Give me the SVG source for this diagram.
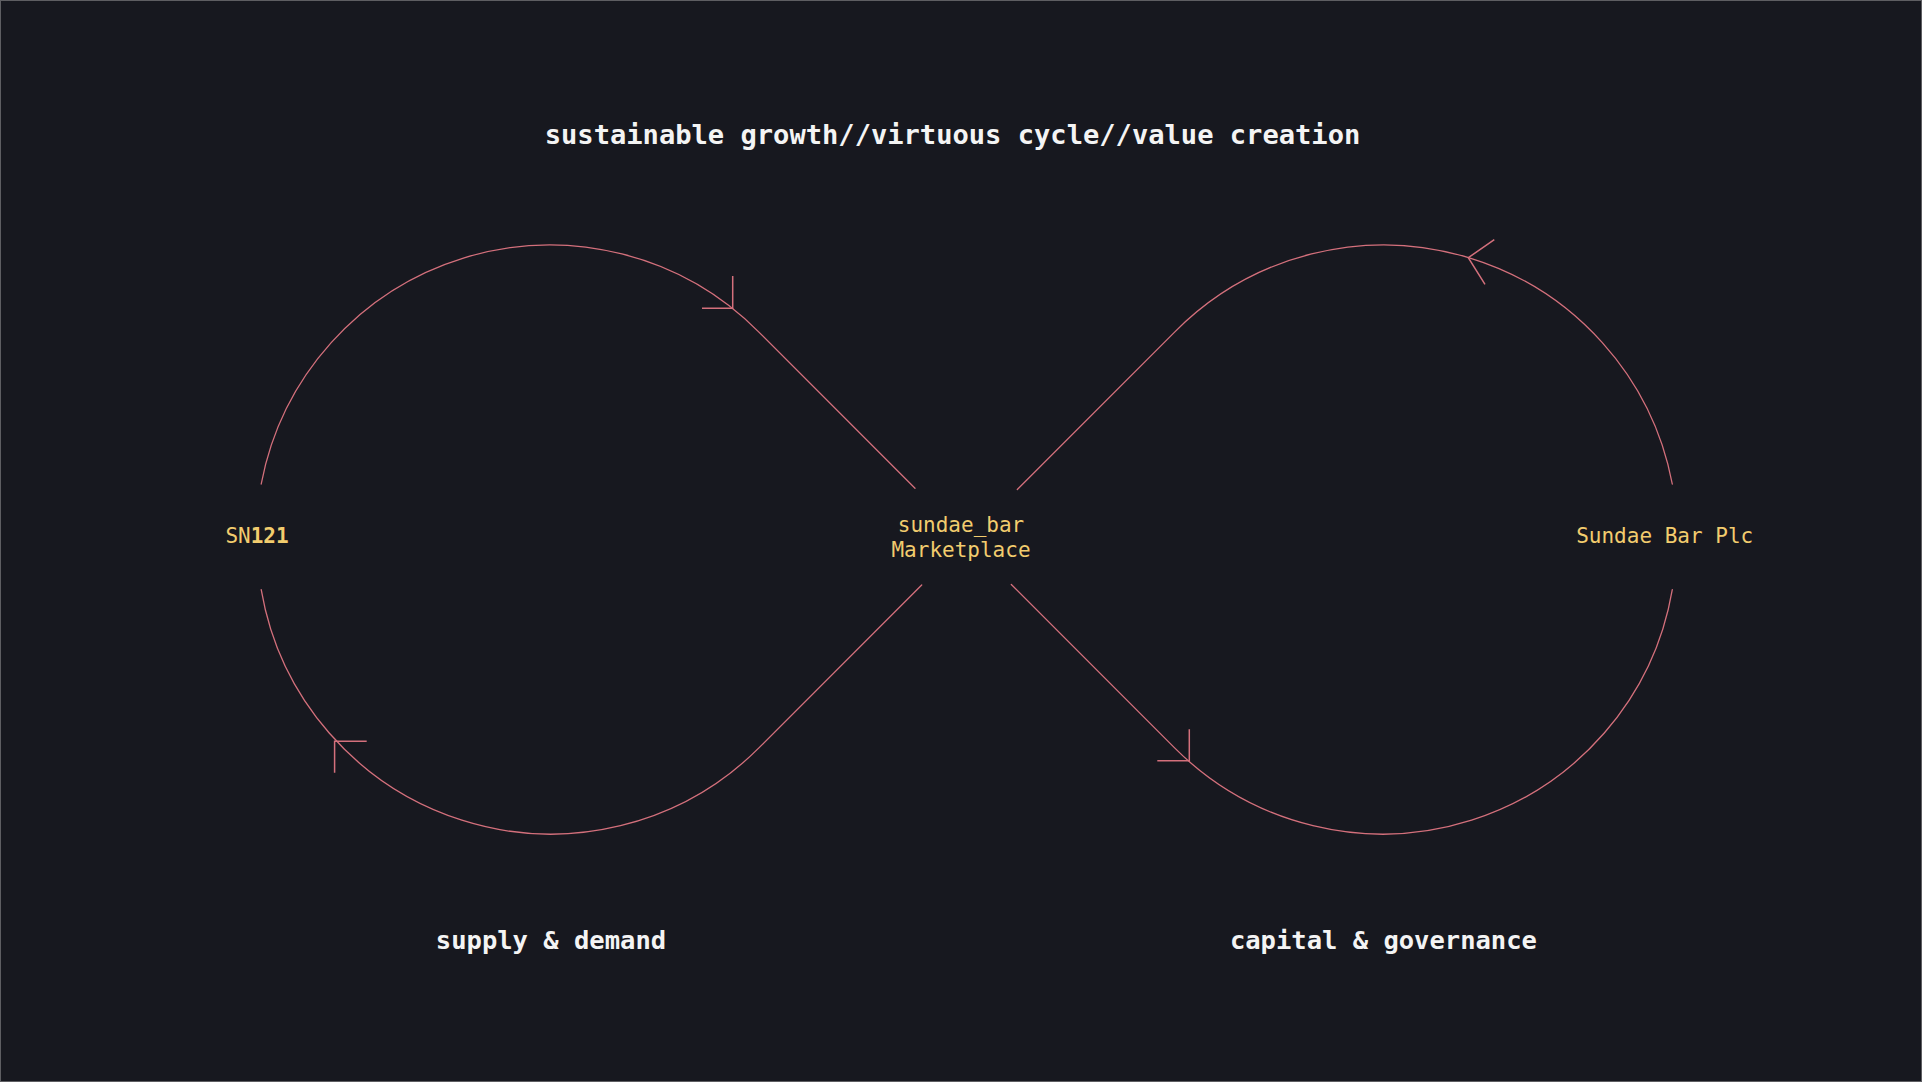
<svg xmlns="http://www.w3.org/2000/svg" width="1922" height="1082" viewBox="0 0 1922 1082">
  <defs>
    <style>
      .bg { fill: #17181f; stroke: #5e5e62; stroke-width: 1; }
      .loop { fill: none; stroke: #d4707c; stroke-width: 1.3; stroke-linecap: round; stroke-linejoin: round; }
      .head { fill: none; stroke: #d4707c; stroke-width: 1.5; stroke-linecap: butt; stroke-linejoin: miter; }
      .title { font-family: "DejaVu Sans Mono", "Liberation Mono", monospace; font-size: 27.1px; font-weight: bold; fill: #f4f4f4; text-anchor: middle; }
      .caption { font-family: "DejaVu Sans Mono", "Liberation Mono", monospace; font-size: 25.5px; font-weight: bold; fill: #f4f4f4; text-anchor: middle; }
      .node { font-family: "DejaVu Sans Mono", "Liberation Mono", monospace; font-size: 21px; fill: #f2cc6e; text-anchor: middle; }
      .b { font-weight: bold; }
    </style>
  </defs>

  <rect class="bg" x="0.5" y="0.5" width="1921" height="1081"/>

  <g id="title">
    <text class="title" x="952.5" y="143.5">sustainable growth//virtuous cycle//value creation</text>
  </g>

  <g id="connectors">
    <path class="loop" d="M 261.2 484 A 294 294 0 0 1 758.9 332.1 L 915 488.2"/>
    <path class="loop" d="M 921.7 585 L 758.9 747.9 A 294 294 0 0 1 261.2 589.6"/>
    <path class="loop" d="M 1011.3 584.5 L 1174.6 747.9 A 294 294 0 0 0 1672.3 589.6"/>
    <path class="loop" d="M 1672.3 484 A 294 294 0 0 0 1174.6 332.1 L 1017.3 489.5"/>
    <polyline class="head" points="732.7,276 732.7,308.3 702,308.3"/>
    <polyline class="head" points="1494.3,239.7 1468.3,257.7 1485,284.3"/>
    <polyline class="head" points="1189.3,729.3 1189.3,760.7 1157.3,760.7"/>
    <polyline class="head" points="366.7,741.3 334.6,741.3 334.6,772.7"/>
  </g>

  <g id="node-sn121">
    <text class="node" x="257" y="543.3">SN<tspan class="b">121</tspan></text>
  </g>

  <g id="node-marketplace">
    <text class="node" x="961" y="531.7">sundae_bar</text>
    <text class="node" x="961" y="557.3">Marketplace</text>
  </g>

  <g id="node-plc">
    <text class="node" x="1664.7" y="543.3">Sundae Bar Plc</text>
  </g>

  <g id="label-supply">
    <text class="caption" x="551" y="948.5">supply &amp; demand</text>
  </g>

  <g id="label-capital">
    <text class="caption" x="1383.4" y="948.5">capital &amp; governance</text>
  </g>
</svg>
